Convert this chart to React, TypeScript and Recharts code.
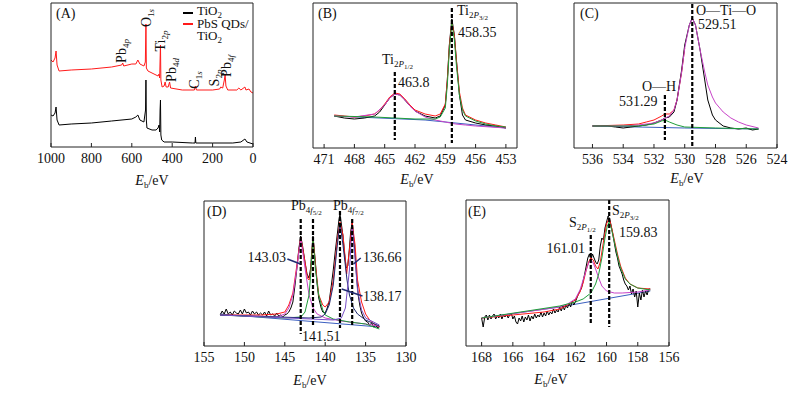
import React from 'react';
import { LineChart, Line, XAxis, YAxis, ReferenceLine } from 'recharts';

// ---------- (A) survey spectra ----------
const surveyTicks = [1000, 800, 600, 400, 200, 0];
const tio2X = [1000, 990, 980, 975, 970, 960, 900, 800, 700, 600, 580, 570, 560, 540, 532, 530, 528, 525, 500, 480, 470, 465, 462, 460, 458, 456, 452, 440, 400, 300, 287, 285, 283, 200, 100, 60, 40, 30, 0];
const tio2Y = [32, 31, 34, 40, 27, 22, 23, 24, 26, 28, 30, 32, 27, 25, 37, 67, 27, 19, 17, 17, 19, 22, 15, 37, 47, 12, 7, 5, 5, 4, 4, 10, 4, 4, 4, 5, 8, 5, 3];
const pbsX = [1000, 990, 980, 975, 970, 960, 900, 800, 700, 650, 645, 640, 600, 580, 570, 560, 540, 533, 530, 528, 520, 480, 470, 465, 462, 460, 458, 456, 450, 440, 435, 430, 420, 413, 408, 350, 290, 285, 280, 200, 165, 160, 150, 142, 138, 134, 125, 80, 70, 60, 40, 35, 20, 10, 0];
const pbsY = [87, 85, 89, 96, 82, 76, 77, 78, 80, 82, 84, 81, 83, 83, 87, 83, 81, 85, 123, 79, 76, 72, 71, 73, 69, 87, 102, 67, 60, 61, 65, 60, 60, 65, 59, 57, 57, 61, 57, 57, 58, 60, 59, 67, 72, 61, 57, 57, 59, 57, 60, 57, 58, 55, 54];

// ---------- (B) Ti 2p ----------
const tiTicks = [471, 468, 465, 462, 459, 456, 453];
const tiRawX = [470, 469, 468, 467, 466, 465.5, 465, 464.5, 464, 463.5, 463, 462.5, 462, 461, 460, 459.5, 459, 458.8, 458.6, 458.35, 458.1, 457.9, 457.6, 457.3, 457, 456, 455, 454, 453];
const tiRawY = [32, 30, 29, 30, 32, 36, 43, 50, 54, 53, 48, 42, 37, 32, 30, 32, 43, 68, 103, 129, 113, 88, 53, 33, 28, 25, 23, 22, 20];
const tiFitY = [33, 32, 31, 32, 34, 38, 44, 51, 55, 54, 49, 43, 38, 34, 32, 34, 44, 68, 102, 126, 112, 88, 56, 40, 33, 28, 25, 23, 21];
const ti32X = [470, 466, 464, 462, 460, 459.5, 459, 458.8, 458.6, 458.35, 458.1, 457.9, 457.6, 457.3, 457, 456, 455, 454, 453];
const ti32Y = [32, 31, 30, 29, 29, 31, 40, 63, 98, 125, 108, 83, 53, 38, 32, 27, 24, 22, 21];
const ti12X = [470, 468, 466, 465, 464.5, 464, 463.5, 463, 462.5, 462, 461, 460, 459, 458, 457, 456, 453];
const ti12Y = [32, 31, 34, 43, 50, 54, 53, 48, 42, 37, 31, 28, 26, 24, 23, 22, 20];
const tiBgX = [470, 461, 453];
const tiBgY = [32, 28, 20];

// ---------- (C) O 1s ----------
const oTicks = [536, 534, 532, 530, 528, 526, 524];
const oRawX = [536, 535.5, 535, 534.5, 534, 533.5, 533, 532.5, 532, 531.5, 531.29, 531, 530.7, 530.5, 530.2, 530, 529.7, 529.51, 529.3, 529, 528.7, 528.5, 528.2, 528, 527.5, 527, 526.5, 526, 525.6, 525.2];
const oRawY = [22, 22, 22, 21, 20, 21, 22, 23, 25, 28, 30, 31, 36, 48, 78, 103, 123, 130, 123, 98, 68, 48, 33, 28, 22, 20, 19, 20, 18, 19];
const oTiX = [536, 534, 533, 532, 531.5, 531, 530.7, 530.5, 530.2, 530, 529.7, 529.51, 529.3, 529, 528.7, 528.5, 528.2, 528, 527.5, 527, 526.5, 526, 525.2];
const oTiY = [22, 22, 23, 25, 28, 32, 38, 48, 76, 100, 123, 130, 123, 98, 76, 63, 51, 45, 36, 30, 26, 23, 20];
const oFitX = [536, 534, 533, 532.5, 532, 531.5, 531.29, 531, 530.7, 530.5, 530.2, 530];
const oFitY = [22, 23, 24, 26, 28, 32, 34, 34, 38, 48, 76, 100];
const ohX = [536, 533, 532, 531.5, 531.29, 531, 530.5, 530, 528, 525.2];
const ohY = [22, 22, 24, 27, 28, 26, 23, 21, 20, 19];
const oBgX = [536, 530, 525.2];
const oBgY = [22, 20, 19];

// ---------- (D) Pb 4f ----------
const pbTicks = [155, 150, 145, 140, 135, 130];
const pbRawX = [153, 152.75, 152.5, 152.25, 152, 151.75, 151.5, 151.25, 151, 150.75, 150.5, 150.25, 150, 149.75, 149.5, 149.25, 149, 148.75, 148.5, 148.25, 148, 147.75, 147.5, 147.25, 147, 146.75, 146.5, 146.25, 146, 145.75, 145.5, 145.25, 145, 144.75, 144.5, 144.25, 144, 143.75, 143.5, 143.25, 143.03, 142.8, 142.5, 142.25, 142, 141.8, 141.65, 141.51, 141.35, 141.2, 141, 140.8, 140.5, 140.3, 140, 139.75, 139.5, 139.25, 139, 138.75, 138.5, 138.3, 138.17, 138, 137.8, 137.6, 137.4, 137.2, 137, 136.85, 136.66, 136.5, 136.3, 136.1, 135.9, 135.7, 135.5, 135.25, 135, 134.75, 134.5, 134.25, 134, 133.75, 133.5, 133.3];
const pbRawY = [31, 35, 32, 37, 32, 34, 31, 35, 33, 32, 36, 32, 37, 33, 34, 31, 35, 32, 34, 31, 33, 31, 34, 30, 35, 31, 32, 30, 33, 30, 31, 29, 31, 32, 34, 38, 44, 60, 78, 98, 110, 100, 84, 72, 68, 78, 96, 110, 96, 82, 62, 48, 38, 34, 33, 38, 45, 60, 76, 95, 112, 126, 132, 122, 110, 92, 78, 80, 98, 114, 124, 110, 92, 68, 50, 40, 33, 28, 25, 24, 21, 23, 19, 21, 18, 20];
const pbFitX = [153, 148, 146, 145, 144.5, 144, 143.5, 143.03, 142.5, 142.2, 142, 141.8, 141.51, 141.2, 140.8, 140.3, 140, 139.5, 139, 138.5, 138.17, 137.8, 137.5, 137.35, 137, 136.66, 136.3, 136, 135.5, 135, 134.5, 134, 133.3];
const pbFitY = [31, 31, 32, 34, 41, 53, 81, 109, 84, 68, 66, 74, 109, 81, 51, 41, 39, 44, 66, 106, 124, 111, 86, 72, 96, 123, 101, 66, 44, 32, 26, 22, 19];
const pb143X = [153, 146, 145, 144.5, 144, 143.5, 143.03, 142.5, 142, 141.5, 141, 140, 138, 135, 133.3];
const pb143Y = [31, 29, 32, 38, 51, 78, 108, 78, 51, 38, 32, 28, 25, 22, 20];
const pb141X = [153, 145, 143, 142.5, 142, 141.8, 141.51, 141.2, 140.8, 140.3, 140, 139, 137, 135, 133.3];
const pb141Y = [31, 28, 29, 34, 51, 71, 108, 76, 51, 36, 31, 27, 24, 22, 17];
const pb138X = [153, 142, 140.5, 140, 139.5, 139, 138.5, 138.17, 137.8, 137.3, 137, 136.5, 136, 135, 133.3];
const pb138Y = [31, 28, 29, 32, 41, 61, 101, 123, 101, 66, 51, 38, 32, 26, 20];
const pb136X = [153, 139, 138, 137.5, 137, 136.66, 136.3, 136, 135.5, 135, 133.3];
const pb136Y = [31, 26, 28, 38, 76, 121, 86, 56, 36, 28, 21];
const pbBgX = [153, 133.3];
const pbBgY = [32, 19];

// ---------- (E) S 2p ----------
const sTicks = [168, 166, 164, 162, 160, 158, 156];
const sRawX = [
  168, 167.9, 167.8, 167.7, 167.6, 167.5, 167.4, 167.3, 167.2, 167.1, 167, 166.9, 166.8, 166.7, 166.6, 166.5, 166.4, 166.3, 166.2, 166.1,
  166, 165.9, 165.8, 165.7, 165.6, 165.5, 165.4, 165.3, 165.2, 165.1, 165, 164.9, 164.8, 164.7, 164.6, 164.5, 164.4, 164.3, 164.2, 164.1,
  164, 163.9, 163.8, 163.7, 163.6, 163.5, 163.4, 163.3, 163.2, 163.1, 163, 162.9, 162.8, 162.7, 162.6, 162.5, 162.4, 162.3, 162.2, 162.1,
  162, 161.9, 161.8, 161.6, 161.4, 161.2, 161.1, 161, 160.9, 160.8, 160.7, 160.6, 160.5, 160.4, 160.3, 160.2, 160.1, 160, 159.9, 159.8,
  159.7, 159.6, 159.5, 159.4, 159.3, 159.2, 159.1, 159, 158.9, 158.8, 158.7, 158.6, 158.5, 158.4, 158.3, 158.2, 158.1, 158, 157.9, 157.8,
  157.7, 157.6, 157.5, 157.4, 157.3, 157.2,
];
const sRawY = [
  28, 19, 29, 31, 26, 31, 27, 30, 32, 27, 30, 28, 32, 27, 31, 29, 32, 28, 31, 33,
  27, 30, 24, 22, 28, 25, 30, 24, 29, 26, 31, 25, 30, 27, 32, 28, 31, 29, 34, 29,
  33, 30, 35, 31, 34, 32, 37, 33, 36, 34, 39, 35, 40, 36, 41, 38, 43, 39, 45, 41,
  44, 48, 52, 58, 72, 88, 92, 86, 92, 88, 84, 82, 86, 100, 108, 106, 118, 124, 130, 127,
  120, 112, 103, 94, 88, 80, 76, 72, 66, 62, 60, 56, 60, 52, 57, 49, 55, 39, 53, 46,
  56, 49, 55, 51, 57, 57,
];
const sFitX = [168, 164, 163, 162.5, 162, 161.7, 161.5, 161.3, 161.15, 161.01, 160.85, 160.7, 160.55, 160.4, 160.2, 160, 159.83, 159.7, 159.5, 159.3, 159.1, 158.8, 158.5, 158, 157.2];
const sFitY = [28, 34, 37, 41, 46, 54, 63, 76, 84, 88, 86, 80, 77, 84, 104, 122, 128, 120, 106, 92, 80, 68, 62, 58, 57];
const s12X = [168, 163, 162.5, 162, 161.7, 161.5, 161.3, 161.15, 161.01, 160.85, 160.7, 160.5, 160.3, 160, 159.5, 159, 158, 157.2];
const s12Y = [28, 39, 42, 47, 56, 66, 76, 83, 86, 83, 77, 68, 60, 55, 53, 53, 54, 56];
const s32X = [168, 163, 162, 161.5, 161, 160.7, 160.5, 160.3, 160.1, 159.95, 159.83, 159.7, 159.5, 159.3, 159.1, 158.8, 158.5, 158, 157.2];
const s32Y = [28, 40, 44, 47, 53, 62, 72, 88, 108, 120, 124, 118, 104, 90, 78, 67, 62, 58, 56];
const sBgX = [168, 163, 157.2];
const sBgY = [28, 39, 55];

const FONT = '"Liberation Serif", "Times New Roman", serif';
const RED = '#ff1a1a';
const GREEN = '#1f9e3a';
const MAGENTA = '#c844c8';
const BLUE = '#3b5fc0';
const NAVY = '#1f2a70';
const VIOLET = '#7a50c8';

const pts = (xs: number[], ys: number[]) => xs.map((x, i) => ({ x, y: ys[i] }));

type Series = { xs: number[]; ys: number[]; color: string; w?: number };
type Seg = { x1: number; y1: number; x2: number; y2: number; dash?: boolean };
type Box = { l: number; t: number; r: number; b: number };

const InTick = (props: any) => {
  const { x, y, payload } = props;
  return (
    <g>
      <line x1={x} x2={x} y1={y} y2={y - 4} stroke="#222" />
      <text x={x} y={y + 16} textAnchor="middle" fontSize={14} fontFamily={FONT} fill="#111">
        {payload.value}
      </text>
    </g>
  );
};

const Panel = ({ box, xDomain, yTop, ticks, series, segs = [] }: {
  box: Box; xDomain: [number, number]; yTop: number; ticks: number[]; series: Series[]; segs?: Seg[];
}) => {
  const pad = 6;
  const side = 22; // room for edge tick labels
  const w = box.r - box.l;
  const h = box.b - box.t;
  return (
    <div style={{ position: 'absolute', left: box.l - side, top: box.t - pad }}>
      <LineChart width={w + 2 * side} height={h + pad + 30} margin={{ top: pad, right: side, left: side, bottom: 0 }}>
        <XAxis
          type="number"
          dataKey="x"
          domain={xDomain}
          reversed
          allowDataOverflow
          ticks={ticks}
          interval={0}
          tickLine={false}
          tickSize={0}
          tickMargin={0}
          tick={<InTick />}
          height={30}
          axisLine={{ stroke: '#222' }}
        />
        <YAxis type="number" dataKey="y" domain={[0, yTop]} allowDataOverflow hide />
        {series.map((s, i) => (
          <Line
            key={i}
            data={pts(s.xs, s.ys)}
            dataKey="y"
            type="linear"
            stroke={s.color}
            strokeWidth={s.w ?? 1}
            dot={false}
            activeDot={false}
            isAnimationActive={false}
          />
        ))}
        {segs.map((s, i) => (
          <ReferenceLine
            key={'s' + i}
            segment={[{ x: s.x1, y: s.y1 }, { x: s.x2, y: s.y2 }]}
            stroke={s.dash ? '#000' : NAVY}
            strokeWidth={s.dash ? 2.2 : 1.6}
            strokeDasharray={s.dash ? '4 2' : undefined}
            ifOverflow="visible"
          />
        ))}
        <ReferenceLine x={xDomain[0]} stroke="#222" ifOverflow="visible" />
        <ReferenceLine x={xDomain[1]} stroke="#222" ifOverflow="visible" />
        <ReferenceLine y={yTop} stroke="#222" ifOverflow="visible" />
      </LineChart>
    </div>
  );
};

const S = ({ children, small }: { children: React.ReactNode; small?: boolean }) => (
  <span style={{ fontSize: small ? 7 : 9, position: 'relative', top: small ? 2 : 3 }}>{children}</span>
);

const Lbl = ({ x, y, anchor = 'start', rot = false, lh = 1, fs, children }: {
  x: number; y: number; anchor?: 'start' | 'middle' | 'end'; rot?: boolean; lh?: number | string; fs?: number; children: React.ReactNode;
}) => {
  const tx = rot || anchor === 'middle' ? '-50%' : anchor === 'end' ? '-100%' : '0';
  return (
    <div
      style={{
        position: 'absolute',
        left: x,
        top: y,
        transform: `translate(${tx}, -50%)${rot ? ' rotate(-90deg)' : ''}`,
        whiteSpace: 'nowrap',
        lineHeight: lh,
        fontSize: fs,
      }}
    >
      {children}
    </div>
  );
};

const AxisLabel = ({ x, y }: { x: number; y: number }) => (
  <Lbl x={x} y={y} anchor="middle">
    <i>E</i>
    <S>b</S>/eV
  </Lbl>
);

export default function App() {
  return (
    <div
      style={{
        position: 'absolute',
        left: 0,
        top: 0,
        width: 800,
        height: 393,
        background: '#fff',
        fontFamily: FONT,
        fontSize: 14,
        color: '#111',
        overflow: 'hidden',
      }}
    >
      <Panel
        box={{ l: 51, t: 3, r: 253, b: 147 }}
        xDomain={[0, 1000]}
        yTop={144}
        ticks={surveyTicks}
        series={[
          { xs: tio2X, ys: tio2Y, color: '#000' },
          { xs: pbsX, ys: pbsY, color: RED },
        ]}
      />
      <Panel
        box={{ l: 313, t: 3, r: 517, b: 148 }}
        xDomain={[451.9, 472.1]}
        yTop={145}
        ticks={tiTicks}
        series={[
          { xs: tiBgX, ys: tiBgY, color: BLUE },
          { xs: tiRawX, ys: tiRawY, color: '#000' },
          { xs: tiRawX, ys: tiFitY, color: RED },
          { xs: ti12X, ys: ti12Y, color: MAGENTA },
          { xs: ti32X, ys: ti32Y, color: GREEN },
        ]}
        segs={[
          { x1: 464, y1: 76, x2: 464, y2: 8, dash: true },
          { x1: 458.35, y1: 140, x2: 458.35, y2: 5, dash: true },
        ]}
      />
      <Panel
        box={{ l: 574, t: 3, r: 777, b: 148 }}
        xDomain={[524, 537.2]}
        yTop={145}
        ticks={oTicks}
        series={[
          { xs: oBgX, ys: oBgY, color: BLUE },
          { xs: oFitX, ys: oFitY, color: RED },
          { xs: oRawX, ys: oRawY, color: '#000' },
          { xs: oTiX, ys: oTiY, color: MAGENTA },
          { xs: ohX, ys: ohY, color: GREEN },
        ]}
        segs={[
          { x1: 531.29, y1: 53, x2: 531.29, y2: 8, dash: true },
          { x1: 529.51, y1: 144, x2: 529.51, y2: 1, dash: true },
        ]}
      />
      <Panel
        box={{ l: 204, t: 201, r: 406, b: 346 }}
        xDomain={[130, 155]}
        yTop={145}
        ticks={pbTicks}
        series={[
          { xs: pbBgX, ys: pbBgY, color: BLUE },
          { xs: pbRawX, ys: pbRawY, color: '#000' },
          { xs: pbFitX, ys: pbFitY, color: RED },
          { xs: pb143X, ys: pb143Y, color: MAGENTA },
          { xs: pb141X, ys: pb141Y, color: GREEN },
          { xs: pb138X, ys: pb138Y, color: NAVY },
          { xs: pb136X, ys: pb136Y, color: VIOLET },
        ]}
        segs={[
          { x1: 143.03, y1: 127, x2: 143.03, y2: 12, dash: true },
          { x1: 141.51, y1: 127, x2: 141.51, y2: 19, dash: true },
          { x1: 138.17, y1: 135, x2: 138.17, y2: 18, dash: true },
          { x1: 136.66, y1: 127, x2: 136.66, y2: 21, dash: true },
          { x1: 144.68, y1: 87, x2: 143.06, y2: 82 },
          { x1: 135.6, y1: 88, x2: 136.5, y2: 82 },
          { x1: 135.39, y1: 50, x2: 137.96, y2: 57 },
        ]}
      />
      <Panel
        box={{ l: 466, t: 200, r: 669, b: 346 }}
        xDomain={[156, 169]}
        yTop={146}
        ticks={sTicks}
        series={[
          { xs: sBgX, ys: sBgY, color: BLUE },
          { xs: sRawX, ys: sRawY, color: '#000' },
          { xs: sFitX, ys: sFitY, color: RED },
          { xs: s12X, ys: s12Y, color: MAGENTA },
          { xs: s32X, ys: s32Y, color: GREEN },
        ]}
        segs={[
          { x1: 161.01, y1: 111, x2: 161.01, y2: 21, dash: true },
          { x1: 159.83, y1: 146, x2: 159.83, y2: 19, dash: true },
        ]}
      />

      {/* panel (A) texts */}
      <Lbl x={56} y={14}>(A)</Lbl>
      <div style={{ position: 'absolute', left: 183, top: 12, width: 10, height: 1.5, background: '#000' }} />
      <div style={{ position: 'absolute', left: 183, top: 23, width: 10, height: 1.5, background: RED }} />
      <Lbl x={197} y={24} lh="12px" fs={13}>
        TiO<S>2</S>
        <br />
        PbS QDs/
        <br />
        TiO<S>2</S>
      </Lbl>
      <Lbl x={147} y={18} rot>
        O<S>1<i>s</i></S>
      </Lbl>
      <Lbl x={161} y={41} rot>
        Ti<S>2<i>p</i></S>
      </Lbl>
      <Lbl x={122} y={51} rot>
        Pb<S>4<i>p</i></S>
      </Lbl>
      <Lbl x={172} y={70} rot>
        Pb<S>4<i>d</i></S>
      </Lbl>
      <Lbl x={195} y={80} rot>
        C<S>1<i>s</i></S>
      </Lbl>
      <Lbl x={215} y={78} rot>
        S<S>2<i>p</i></S>
      </Lbl>
      <Lbl x={227} y={66} rot>
        Pb<S>4<i>f</i></S>
      </Lbl>
      <AxisLabel x={152} y={181} />

      {/* panel (B) texts */}
      <Lbl x={318} y={14}>(B)</Lbl>
      <Lbl x={457} y={11}>
        Ti<S>2<i>P</i><S small>3/2</S></S>
      </Lbl>
      <Lbl x={458} y={33}>458.35</Lbl>
      <Lbl x={382} y={60}>
        Ti<S>2<i>P</i><S small>1/2</S></S>
      </Lbl>
      <Lbl x={398} y={83}>463.8</Lbl>
      <AxisLabel x={417} y={180} />

      {/* panel (C) texts */}
      <Lbl x={580} y={14}>(C)</Lbl>
      <Lbl x={696} y={11}>O—Ti—O</Lbl>
      <Lbl x={698} y={25}>529.51</Lbl>
      <Lbl x={642} y={87}>O—H</Lbl>
      <Lbl x={619} y={102}>531.29</Lbl>
      <AxisLabel x={687} y={179} />

      {/* panel (D) texts */}
      <Lbl x={207} y={212}>(D)</Lbl>
      <Lbl x={291} y={206}>
        Pb<S>4<i>f</i><S small>5/2</S></S>
      </Lbl>
      <Lbl x={333} y={206}>
        Pb<S>4<i>f</i><S small>7/2</S></S>
      </Lbl>
      <Lbl x={286} y={258} anchor="end">143.03</Lbl>
      <Lbl x={363} y={258}>136.66</Lbl>
      <Lbl x={363} y={297}>138.17</Lbl>
      <Lbl x={302} y={337}>141.51</Lbl>
      <AxisLabel x={310} y={381} />

      {/* panel (E) texts */}
      <Lbl x={468} y={212}>(E)</Lbl>
      <Lbl x={569} y={223}>
        S<S>2<i>P</i><S small>1/2</S></S>
      </Lbl>
      <Lbl x={612} y={211}>
        S<S>2<i>P</i><S small>3/2</S></S>
      </Lbl>
      <Lbl x={585} y={249} anchor="end">161.01</Lbl>
      <Lbl x={619} y={233}>159.83</Lbl>
      <AxisLabel x={551} y={380} />
    </div>
  );
}
